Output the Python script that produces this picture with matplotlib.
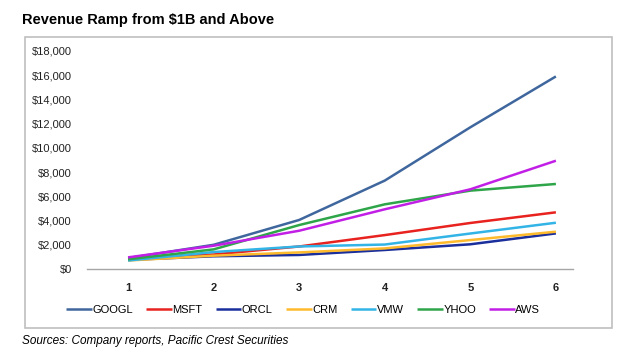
import matplotlib
matplotlib.use("Agg")
import matplotlib.pyplot as plt
import matplotlib.patches as patches
from matplotlib.ticker import FuncFormatter

plt.rcParams['font.family'] = ['Liberation Sans', 'DejaVu Sans']

# data (revenue, $M, by year since $1B)
years = [1, 2, 3, 4, 5, 6]
googl = [900, 2000, 4050, 7300, 11700, 15900]
msft = [850, 1200, 1860, 2800, 3800, 4680]
orcl = [750, 1050, 1160, 1570, 2040, 2940]
crm = [700, 1100, 1370, 1700, 2390, 3080]
vmw = [700, 1400, 1860, 2020, 2930, 3820]
yhoo = [800, 1620, 3630, 5340, 6470, 7020]
aws = [960, 1920, 3160, 4930, 6580, 8940]

series = [
    ("GOOGL", googl, "#3F679E"),
    ("MSFT", msft, "#E8221E"),
    ("ORCL", orcl, "#1A2E9C"),
    ("CRM", crm, "#FDBA2C"),
    ("VMW", vmw, "#33B4E6"),
    ("YHOO", yhoo, "#2EA549"),
    ("AWS", aws, "#C21FE6"),
]

fig = plt.figure(figsize=(6.3, 3.54), dpi=100)
ax = fig.add_axes([87/630, 1 - 269/354, (573 - 87)/630, (269 - 51)/354])

for name, vals, col in series:
    ax.plot(years, vals, color=col, lw=1.8, label=name, solid_capstyle='butt')

ax.set_xlim(0.52, 6.2)
ax.set_ylim(0, 18000)
ax.set_yticks(range(0, 18001, 2000))
ax.set_xticks(years)
ax.yaxis.set_major_formatter(FuncFormatter(lambda v, p: "\\$" + format(int(v), ",")))
for s in ["top", "right", "left"]:
    ax.spines[s].set_visible(False)
ax.spines["bottom"].set_color("#A6A6A6")
ax.spines["bottom"].set_linewidth(1)
ax.tick_params(axis="both", length=0, labelsize=8, colors="#222222")
ax.tick_params(axis="y", pad=11)
ax.tick_params(axis="x", pad=10)
for lab in ax.get_xticklabels():
    lab.set_fontweight("bold")

leg = ax.legend(loc="upper center", bbox_to_anchor=(0.445, -0.12), ncol=7, frameon=False,
                fontsize=8, handlelength=2.3, handletextpad=0.05, columnspacing=1.2)

# outer frame
fig.patches.append(patches.Rectangle((25/630, 1 - 328/354), (612 - 25)/630, (328 - 37)/354,
                                     transform=fig.transFigure, fill=False,
                                     edgecolor="#BFBFBF", lw=1.2))

fig.text(22/630, 1 - 20/354, "Revenue Ramp from \\$1B and Above", fontsize=10.5,
         fontweight="bold", va="center", ha="left")
fig.text(22/630, 1 - 341/354, "Sources: Company reports, Pacific Crest Securities",
         fontsize=8.5, style="italic", va="center", ha="left")

fig.savefig("out.png", dpi=100)
